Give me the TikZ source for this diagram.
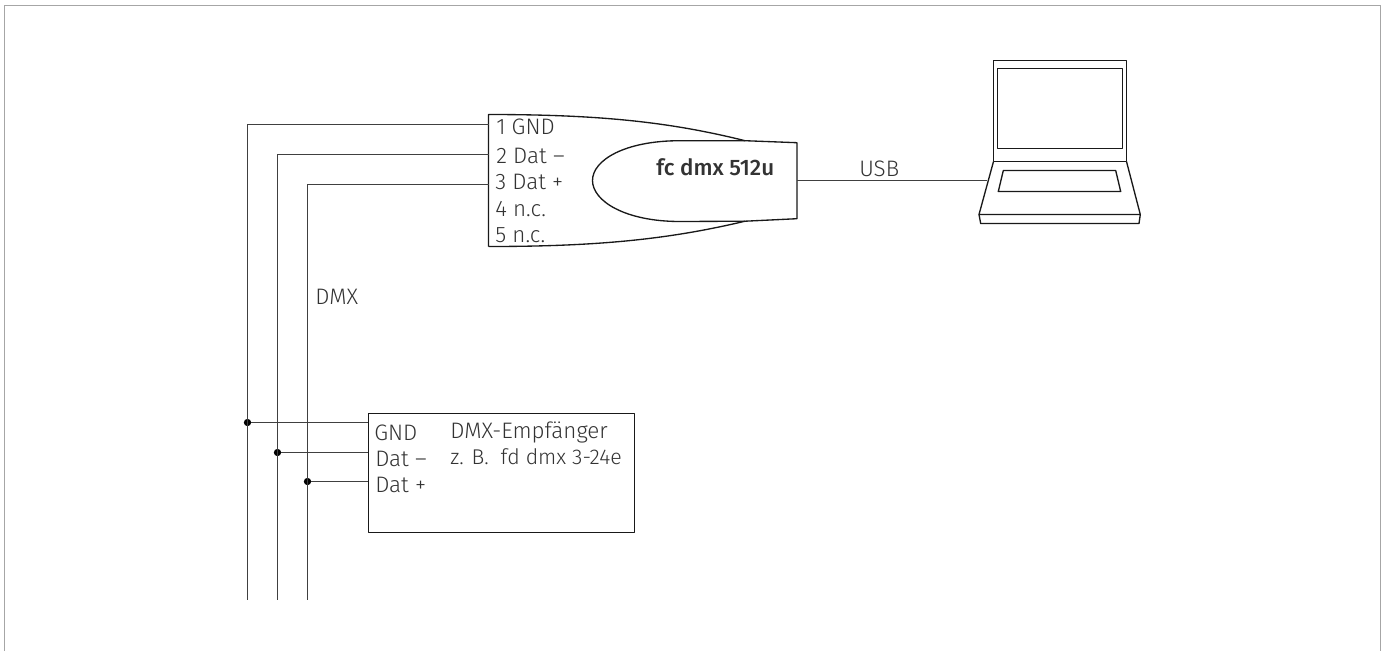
\documentclass[tikz,border=0pt]{standalone}
\usepackage{fontspec}
\setmainfont{Fira Sans Light}[BoldFont={Fira Sans Medium}]
\tikzset{
  wire/.style = {line width = 1pt, color = black!75},
  part/.style = {line width = 1pt, color = black!90, line join = round},
  lbl/.style = {anchor = base west, inner sep = 0pt, text = black!80, font = \fontsize{16.8}{19}\selectfont},
  joint/.style = {circle, fill = black, inner sep = 0pt, minimum size = 5.5pt}
}
\begin{document}
\begin{tikzpicture}[x = 0.75pt, y = -0.75pt]
  \useasboundingbox (0, 0) rectangle (1386, 651);
  % page frame
  \draw[line width = 0.9pt, color = black!35] (4.5, 651) -- (4.5, 5.5) -- (1380.5, 5.5) -- (1380.5, 651);

  % dongle
  \coordinate (d1) at (488.5, 114.5);
  \coordinate (d2) at (488.5, 246.5);
  \coordinate (d3) at (745, 140.7);
  \coordinate (d4) at (745, 221.2);
  \coordinate (d5) at (797, 142.7);
  \coordinate (d6) at (797, 218.7);
  \draw[part] (d2) -- (d1) .. controls (600, 114.5) and (670, 122) .. (d3) -- (d5) -- (d6) -- (d4)
    .. controls (670, 239) and (600, 246.5) .. (d2);
  \draw[part] (d3) -- (680, 140.7) .. controls (625, 140.7) and (592.5, 160) .. (592.5, 180.5)
    .. controls (592.5, 201) and (625, 221.5) .. (680, 221.5) -- (d4);
  \coordinate (usbA) at (797, 180.5);

  % laptop
  \draw[part] (993.5, 161.5) rectangle (1126.5, 60.5);
  \draw[part] (997.5, 68.5) rectangle (1122.5, 148.5);
  \draw[part] (993.5, 161.5) -- (979, 214.5) -- (1140.3, 214.5) -- (1126.5, 161.5);
  \draw[part] (979, 214.5) -- (980.7, 223.5) -- (1139, 223.5) -- (1140.3, 214.5);
  \draw[part] (1003.3, 170.5) -- (1115.7, 170.5) -- (1120.7, 191.5) -- (998.3, 191.5) -- cycle;
  \coordinate (usbB) at (986.7, 180.5);
  \draw[wire] (usbA) -- (usbB);

  % receiver
  \node[part, draw, fill = none, inner sep = 0pt, minimum width = 199.5pt, minimum height = 89.25pt, anchor = north west] (rx) at (367.5, 412.5) {};

  % dmx lines
  \coordinate (gndT) at (488.5, 124.5);
  \coordinate (gndC) at (247.5, 124.5);
  \coordinate (gndE) at (247.5, 600);
  \coordinate (gndR) at (367.5, 422.5);
  \coordinate (negT) at (488.5, 154.5);
  \coordinate (negC) at (277.5, 154.5);
  \coordinate (negE) at (277.5, 600);
  \coordinate (negR) at (367.5, 452.5);
  \coordinate (posT) at (488.5, 184.5);
  \coordinate (posC) at (307.5, 184.5);
  \coordinate (posE) at (307.5, 600);
  \coordinate (posR) at (367.5, 481.5);
  \node[joint] (gndJ) at (247.5, 422.5) {};
  \node[joint] (negJ) at (277.5, 452.5) {};
  \node[joint] (posJ) at (307.5, 481.5) {};
  \draw[wire] (gndT) -- (gndC) -- (gndE);
  \draw[wire] (negT) -- (negC) -- (negE);
  \draw[wire] (posT) -- (posC) -- (posE);
  \draw[wire] (gndJ) -- (gndR);
  \draw[wire] (negJ) -- (negR);
  \draw[wire] (posJ) -- (posR);

  % labels
  \node[lbl] (p1) at (496, 134) {1 GND};
  \node[lbl] (p2) at (496, 163) {2 Dat –};
  \node[lbl] (p3) at (495, 189) {3 Dat +};
  \node[lbl] (p4) at (495, 216) {4 n.c.};
  \node[lbl] (p5) at (495, 242) {5 n.c.};
  \node[lbl] (name) at (656, 175) {\textbf{fc dmx 512u}};
  \node[lbl] (usb) at (859, 176) {USB};
  \node[lbl] (dmx) at (315, 304) {DMX};
  \node[lbl] (r1) at (374, 440) {GND};
  \node[lbl] (r2) at (375, 466) {Dat –};
  \node[lbl] (r3) at (375, 492) {Dat +};
  \node[lbl] (r4) at (450, 438) {DMX-Empfänger};
  \node[lbl, font = \fontsize{16}{19}\selectfont] (r5) at (450, 464) {z. B.\ \ fd dmx 3-24e};
\end{tikzpicture}
\end{document}
